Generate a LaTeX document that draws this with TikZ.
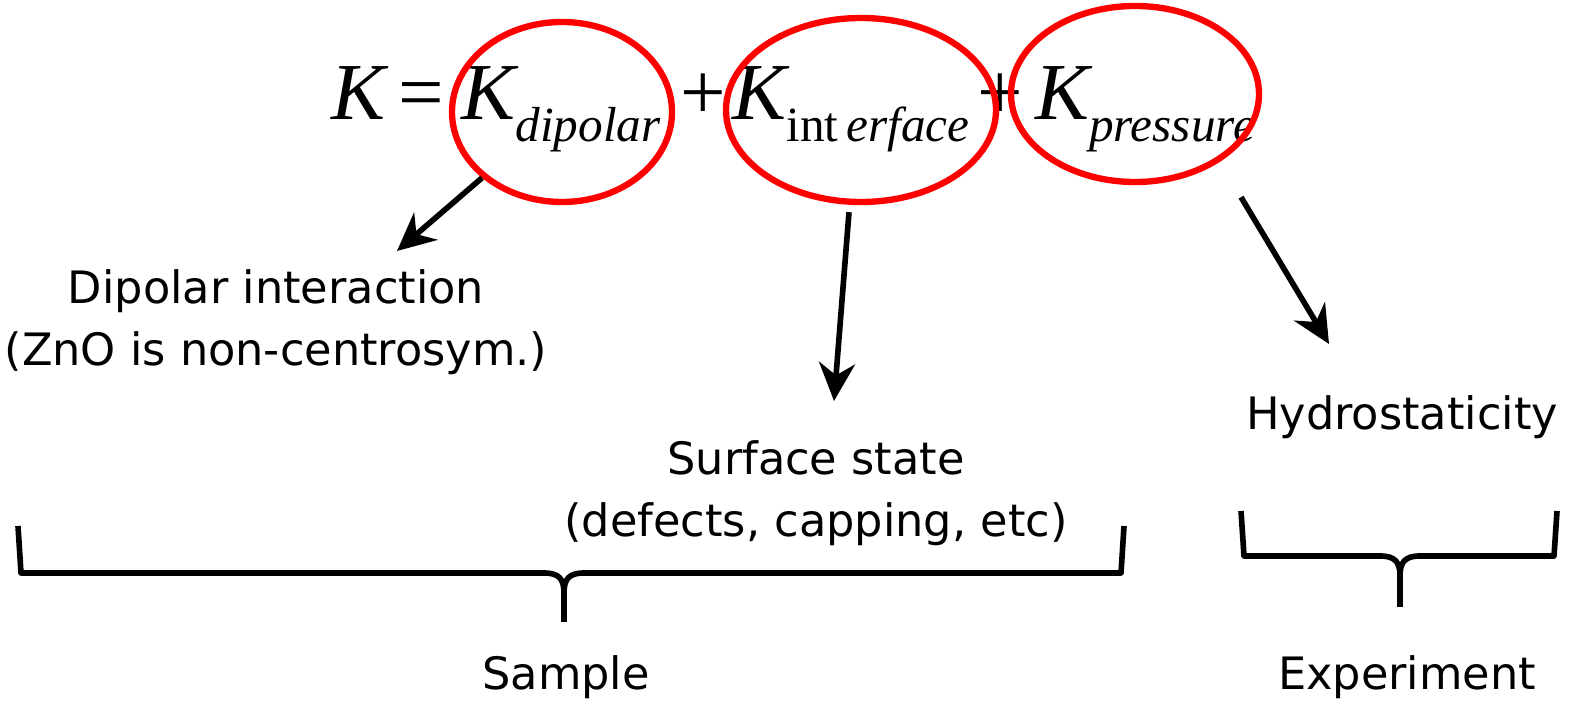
\documentclass[tikz,border=0pt]{standalone}
\usepackage{fontspec}
\setmainfont{DejaVu Sans}
\newfontfamily\eqfont{Liberation Serif}
\usetikzlibrary{arrows.meta,positioning,calc,shapes.geometric}
\newcommand\subtxt[1]{\raisebox{-0.22cm}{\fontsize{14}{14}\selectfont #1}}

\begin{document}
\begin{tikzpicture}[
    >={Stealth[length=3.8mm, width=3.6mm]},
    term/.style={anchor=base, inner sep=0pt, font=\fontsize{23}{23}\selectfont\eqfont\itshape},
    circled/.style={ellipse, draw=red, line width=1.8pt, inner sep=0pt},
    note/.style={font=\fontsize{12.7}{17.5}\selectfont, align=center, inner sep=0pt},
    link/.style={->, line width=1.6pt},
    brace/.style={line width=1.6pt, line join=round},
]
    \useasboundingbox (0,0) rectangle (15.85,-7.05);

    % --- Equation ---
    \node[term, anchor=base east] (klhs) at (4.45,-1.20) {K\,\upshape=};
    \node[term] (kdip) at (5.61,-1.20) {K\subtxt{dipolar}};
    \node[term] (plus1) at (7.03,-1.20) {\upshape+};
    \node[term] (kint) at (8.51,-1.20) {K\subtxt{{\upshape int}\,erface}};
    \node[term] (plus2) at (10.00,-1.20) {\upshape+};
    \node[term] (kpre) at (11.45,-1.20) {K\subtxt{pressure}};

    % --- Red ellipses ---
    \node[circled, minimum width=2.20cm, minimum height=1.80cm] (e1) at (5.62,-1.12) {};
    \node[circled, minimum width=2.70cm, minimum height=1.84cm] (e2) at (8.61,-1.10) {};
    \node[circled, minimum width=2.48cm, minimum height=1.76cm] (e3) at (11.35,-0.94) {};

    % --- Notes ---
    \node[note] (dip) at (2.76,-3.22) {Dipolar interaction\\(ZnO is non-centrosym.)};
    \node[note] (surf) at (8.16,-4.93) {Surface state\\(defects, capping, etc)};
    \node[note] (hydro) at (14.02,-4.17) {Hydrostaticity};

    % --- Arrows ---
    \coordinate (dipend) at (3.97,-2.51);
    \coordinate (surfend) at (8.34,-4.01);
    \coordinate (hydroend) at (13.29,-3.44);
    \draw[link] (e1.south west) -- (dipend);
    \draw[link] ($(e2.south)+(-0.12,-0.07)$) -- (surfend);
    \draw[link] ($(e3.south)+(1.06,-0.12)$) -- (hydroend);

    % --- Braces ---
    \foreach \l/\r/\m/\t/\b/\tip in {0.18/11.24/5.64/-5.26/-5.73/-6.22, 12.41/15.57/14.00/-5.11/-5.56/-6.07}{
        \draw[brace] (\l,\t) -- (\l+0.03,\b) -- (\m-0.2,\b)
            .. controls (\m-0.05,\b) and (\m,\b-0.06) .. (\m,\b-0.2) -- (\m,\tip);
        \draw[brace] (\r,\t) -- (\r-0.03,\b) -- (\m+0.2,\b)
            .. controls (\m+0.05,\b) and (\m,\b-0.06) .. (\m,\b-0.2);
    }

    \node[note, anchor=base] (sample) at (5.66,-6.89) {Sample};
    \node[note, anchor=base] (expt) at (14.07,-6.89) {Experiment};

\end{tikzpicture}
\end{document}
